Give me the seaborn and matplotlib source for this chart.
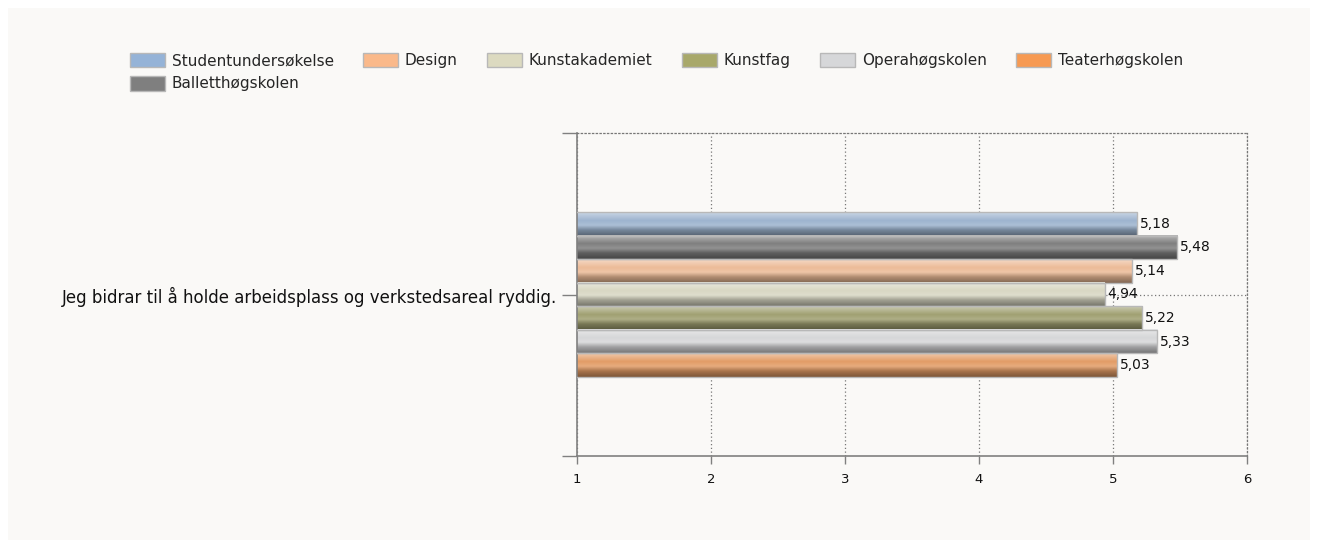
import numpy as np
import pandas as pd
import matplotlib.pyplot as plt
from matplotlib.patches import Rectangle, Patch
import seaborn as sns

# Data
question = "Jeg bidrar til å holde arbeidsplass og verkstedsareal ryddig."
groups = ["Studentundersøkelse", "Balletthøgskolen", "Design", "Kunstakademiet",
          "Kunstfag", "Operahøgskolen", "Teaterhøgskolen"]
values = [5.18, 5.48, 5.14, 4.94, 5.22, 5.33, 5.03]
colors = {"Studentundersøkelse": "#95b3d7", "Balletthøgskolen": "#7f7f7f",
          "Design": "#fab98a", "Kunstakademiet": "#dcdac0", "Kunstfag": "#a8a86a",
          "Operahøgskolen": "#d6d7d9", "Teaterhøgskolen": "#f79a52"}

df = pd.DataFrame({"question": question, "group": groups, "value": values})

sns.set_style("white")
plt.rcParams['font.family'] = ['DejaVu Sans']

panel = "#faf9f7"
fig = plt.figure(figsize=(13.18, 5.48), dpi=100, facecolor="white")
fig.patches.append(Rectangle((8 / 1318, 8 / 548), 1 - 16 / 1318, 1 - 16 / 548,
                             transform=fig.transFigure, facecolor=panel,
                             edgecolor="none", zorder=-1))
ax = fig.add_axes([577 / 1318, 1 - 456 / 548, 670 / 1318, 323 / 548])
ax.set_facecolor(panel)

sns.barplot(data=df, x="value", y="question", hue="group", hue_order=groups,
            palette=colors, orient="h", width=0.51, ax=ax, legend=False,
            edgecolor="#b8b8b8", linewidth=1.0)

# gradient fill on each bar
for patch in ax.patches:
    fc = np.array(patch.get_facecolor()[:3])
    x0, y0 = patch.get_x(), patch.get_y()
    w, h = patch.get_width(), patch.get_height()
    light = fc + (1 - fc) * 0.45
    dark = fc * 0.55
    stops = np.array([0.0, 0.35, 0.55, 0.75, 1.0])
    cols = np.array([light, fc, fc * 0.85 + 0.15, fc * 0.75, dark])
    t = np.linspace(0, 1, 64)
    grad = np.stack([np.interp(t, stops, cols[:, c]) for c in range(3)], axis=1)
    ax.imshow(grad[:, None, :], extent=(x0, x0 + w, y0 + h, y0), origin="upper",
              aspect="auto", zorder=2, interpolation="bilinear")
    patch.set_facecolor("none")
    patch.set_zorder(3)

for cont, v in zip(ax.containers, values):
    ax.bar_label(cont, labels=[f"{v:.2f}".replace(".", ",")], padding=2,
                 fontsize=10, color="#111111", zorder=4)

ax.set_xlim(1, 6)
ax.set_ylim(0.5, -0.5)
ax.set_xticks([1, 2, 3, 4, 5, 6])
ax.set_xticklabels(["1", "2", "3", "4", "5", "6"], fontsize=9.5, color="#111111")
ax.set_yticks([0])
ax.set_yticklabels([question], fontsize=12, color="#111111")
ax.set_yticks([-0.5, 0.5], minor=True)
ax.set_xlabel("")
ax.set_ylabel("")

ax.grid(True, axis="both", which="major", linestyle=(0, (1, 2)),
        color="#777777", linewidth=0.9)
ax.set_axisbelow(True)
ax.tick_params(axis="x", which="major", bottom=True, length=6, width=1,
               color="#808080", pad=6)
ax.tick_params(axis="y", which="both", left=True, length=11, width=1,
               color="#808080", pad=3)

for side in ["left", "bottom"]:
    ax.spines[side].set_color("#808080")
    ax.spines[side].set_linewidth(1.2)
for side in ["top", "right"]:
    ax.spines[side].set_color("#777777")
    ax.spines[side].set_linestyle((0, (1, 2)))
    ax.spines[side].set_linewidth(0.9)

# legend fills column-wise: first column holds Studentundersøkelse + Balletthøgskolen
handles = [Patch(facecolor=colors[g], edgecolor="#b8b8b8", linewidth=1.0)
           for g in groups]
fig.legend(handles, groups, loc="upper left",
           bbox_to_anchor=(116 / 1318, 1 - 39 / 548), ncol=6, frameon=False,
           fontsize=11, handlelength=2.3, handleheight=1.1, handletextpad=0.45,
           columnspacing=1.9, labelspacing=0.5)

fig.savefig("out.png", dpi=100, facecolor="white")
